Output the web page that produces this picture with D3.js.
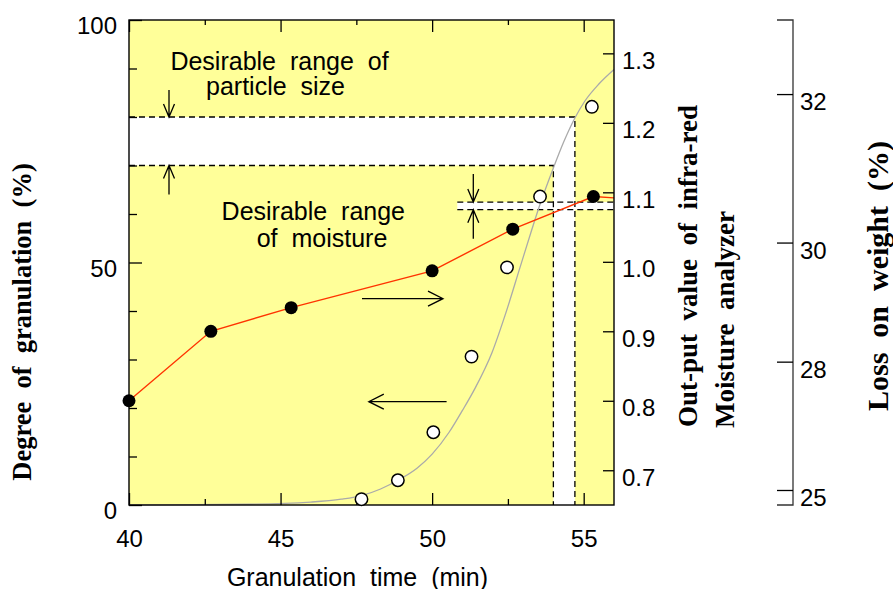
<!DOCTYPE html>
<html>
<head>
<meta charset="utf-8">
<script src="https://cdn.jsdelivr.net/npm/d3@7"></script>
<style>
  body { margin: 0; background: #fff; }
  svg { display: block; }
  .sans { font-family: "Liberation Sans", Arial, sans-serif; fill: #000; }
  .serif { font-family: "Liberation Serif", "Times New Roman", serif; font-weight: bold; fill: #000; }
</style>
</head>
<body>
<script>
// infra-red moisture analyzer output (filled dots, right axis)
var irTime = [40.0, 42.7, 45.35, 50.0, 52.66, 55.32];
var irValue = [0.80, 0.90, 0.934, 0.987, 1.047, 1.094];
// the red line carries on to the frame after the last dot
var irLineEnd = [56, 1.092];

// degree of granulation (open dots, left axis)
var granTime = [47.67, 48.87, 50.04, 51.3, 52.47, 53.56, 55.27];
var granValue = [1.2, 5.1, 15.0, 30.6, 49.0, 63.6, 82.1];

// grey fitted curve
var curveTime = [40, 44, 46, 47, 47.7, 48.3, 48.9, 49.5, 50.0, 50.56, 51.0, 51.41, 51.98, 52.4, 52.9,
                 53.3, 53.56, 54.0, 54.35, 54.71, 55.04, 55.5, 56.0];
var curveValue = [0, 0.15, 0.6, 1.2, 2.0, 3.3, 5.2, 7.6, 10.5, 15, 19.5, 24, 31.5, 39, 49,
                  57, 62, 69.5, 75, 79.8, 83.3, 86.8, 89.8];

// desirable ranges
var particleRange = [70, 80];        // % granulation
var particleTime = [54.0, 54.71];    // where the curve meets that range
var moistureRange = [1.075, 1.086];  // infra-red output
var moistureFrom = 50.83;

// ticks
var xMajor = [40, 45, 50, 55];
var xMinor = [42.5, 47.5, 52.5];
var leftMajor = [0, 50, 100];
var leftMinor = [10, 20, 30, 40, 60, 70, 80, 90];
var irTicks = [0.7, 0.8, 0.9, 1.0, 1.1, 1.2, 1.3];
var lossTicks = [25, 28, 30, 32];
// the loss-on-weight scale is not linear: infra-red value at each loss tick
var lossAsIr = [0.6716, 0.8563, 1.0277, 1.2414];

var W = 893, H = 589;
var L = 129, R = 614, T = 20, B = 505;

var svg = d3.select("body").append("svg").attr("width", W).attr("height", H);

var x = d3.scaleLinear().domain([40, 56]).range([L, R]);
var yL = d3.scaleLinear().domain([0, 100]).range([B, T]);
var yR = d3.scaleLinear().domain([0.65, 1.348]).range([B, T]);
var yLoss = d3.scaleLinear().domain(lossTicks).range(lossAsIr.map(yR));

// plot background
svg.append("rect").attr("x", L).attr("y", T).attr("width", R - L).attr("height", B - T)
  .attr("fill", "#ffff99");

// white bands of the desirable ranges
svg.append("rect")
  .attr("x", x(40)).attr("y", yL(particleRange[1]))
  .attr("width", x(particleTime[1]) - x(40))
  .attr("height", yL(particleRange[0]) - yL(particleRange[1]))
  .attr("fill", "#fff");
svg.append("rect")
  .attr("x", x(particleTime[0])).attr("y", yL(particleRange[1]))
  .attr("width", x(particleTime[1]) - x(particleTime[0]))
  .attr("height", B - yL(particleRange[1]))
  .attr("fill", "#fff");
svg.append("rect")
  .attr("x", x(moistureFrom)).attr("y", yR(moistureRange[1]))
  .attr("width", R - x(moistureFrom))
  .attr("height", yR(moistureRange[0]) - yR(moistureRange[1]))
  .attr("fill", "#fff");

// dashed range lines
var dash = svg.append("g").attr("stroke", "#000").attr("stroke-width", 1.3)
  .attr("stroke-dasharray", "6,4").attr("fill", "none");
dash.append("path").attr("d", d3.line()([
  [x(40), yL(particleRange[1])], [x(particleTime[1]), yL(particleRange[1])], [x(particleTime[1]), B]]));
dash.append("path").attr("d", d3.line()([
  [x(40), yL(particleRange[0])], [x(particleTime[0]), yL(particleRange[0])], [x(particleTime[0]), B]]));
moistureRange.forEach(function(v) {
  dash.append("line").attr("x1", x(moistureFrom)).attr("x2", R)
    .attr("y1", yR(v)).attr("y2", yR(v));
});

// grey curve
svg.append("path")
  .datum(curveTime.map(function(t, i) { return [t, curveValue[i]]; }))
  .attr("fill", "none").attr("stroke", "#aaaaaa").attr("stroke-width", 1.3)
  .attr("d", d3.line().curve(d3.curveMonotoneX)
    .x(function(d) { return x(d[0]); }).y(function(d) { return yL(d[1]); }));

// red line
var irLine = irTime.map(function(t, i) { return [t, irValue[i]]; }).concat([irLineEnd]);
svg.append("path").datum(irLine)
  .attr("fill", "none").attr("stroke", "#ff3300").attr("stroke-width", 1.4)
  .attr("d", d3.line().x(function(d) { return x(d[0]); }).y(function(d) { return yR(d[1]); }));

// axes
function styleAxis(g) {
  g.select(".domain").remove();
  g.selectAll("line").attr("stroke", "#000").attr("stroke-width", 1.3);
  g.selectAll("text").attr("class", "sans").attr("font-size", 24).attr("fill", "#000");
}

svg.append("g").attr("transform", "translate(" + L + ",0)")
  .call(d3.axisLeft(yL).tickValues(leftMinor).tickSize(-8).tickFormat(""))
  .call(styleAxis);
svg.append("g").attr("transform", "translate(" + L + ",0)")
  .call(d3.axisLeft(yL).tickValues(leftMajor).tickSize(-13).tickPadding(12))
  .call(styleAxis)
  .selectAll("text").attr("dy", 13.5);

svg.append("g").attr("transform", "translate(0," + B + ")")
  .call(d3.axisBottom(x).tickValues(xMinor).tickSize(-6).tickFormat(""))
  .call(styleAxis);
svg.append("g").attr("transform", "translate(0," + B + ")")
  .call(d3.axisBottom(x).tickValues(xMajor).tickSize(-12).tickPadding(0))
  .call(styleAxis)
  .selectAll("text").attr("y", 41.5).attr("dy", 0);

svg.append("g").attr("transform", "translate(0," + T + ")")
  .call(d3.axisTop(x).tickValues(xMinor).tickSize(-5).tickFormat(""))
  .call(styleAxis);
svg.append("g").attr("transform", "translate(0," + T + ")")
  .call(d3.axisTop(x).tickValues(xMajor).tickSize(-12).tickFormat(""))
  .call(styleAxis);

svg.append("g").attr("transform", "translate(" + R + ",0)")
  .call(d3.axisRight(yR).tickValues(irTicks).tickSize(-11).tickPadding(8).tickFormat(d3.format(".1f")))
  .call(styleAxis)
  .selectAll("text").attr("dy", 15);

// loss on weight axis, bracket shaped
var lossX = 793;
svg.append("path")
  .attr("d", d3.line()([[lossX - 16, yR.range()[1]], [lossX, yR.range()[1]],
                        [lossX, yR.range()[0]], [lossX - 16, yR.range()[0]]]))
  .attr("fill", "none").attr("stroke", "#333").attr("stroke-width", 1.3);
svg.append("g").attr("transform", "translate(" + lossX + ",0)")
  .call(d3.axisRight(yLoss).tickValues(lossTicks).tickSize(-16).tickPadding(7).tickFormat(d3.format("d")))
  .call(styleAxis)
  .selectAll("text").attr("dy", 15.5);

// frame
svg.append("rect").attr("x", L).attr("y", T).attr("width", R - L).attr("height", B - T)
  .attr("fill", "none").attr("stroke", "#000").attr("stroke-width", 1.4);

// dots
svg.append("g").selectAll("circle").data(irTime).join("circle")
  .attr("cx", function(d) { return x(d); })
  .attr("cy", function(d, i) { return yR(irValue[i]); })
  .attr("r", 6.5).attr("fill", "#000");
svg.append("g").selectAll("circle").data(granTime).join("circle")
  .attr("cx", function(d) { return x(d); })
  .attr("cy", function(d, i) { return yL(granValue[i]); })
  .attr("r", 6.2).attr("fill", "#fff").attr("stroke", "#000").attr("stroke-width", 1.5);

// arrows
var arrows = svg.append("g").attr("stroke", "#000").attr("stroke-width", 1.3).attr("fill", "none");
function vArrow(ax, y0, y1) {
  var s = y1 > y0 ? 1 : -1;
  arrows.append("path").attr("d", "M" + ax + "," + y0 + "V" + y1 +
    "M" + (ax - 5.5) + "," + (y1 - s * 13) + "L" + ax + "," + y1 + "L" + (ax + 5.5) + "," + (y1 - s * 13));
}
function hArrow(ay, x0, x1) {
  var s = x1 > x0 ? 1 : -1;
  arrows.append("path").attr("d", "M" + x0 + "," + ay + "H" + x1 +
    "M" + (x1 - s * 15) + "," + (ay - 7.5) + "L" + x1 + "," + ay + "L" + (x1 - s * 15) + "," + (ay + 7.5));
}
vArrow(169, yL(particleRange[1]) - 27, yL(particleRange[1]));
vArrow(169, yL(particleRange[0]) + 29, yL(particleRange[0]));
vArrow(473.3, yR(moistureRange[1]) - 28, yR(moistureRange[1]));
vArrow(473.3, yR(moistureRange[0]) + 29, yR(moistureRange[0]));
hArrow(298.7, 362, 443);
hArrow(401.7, 446.6, 368.8);

// annotation text
function label(txt, tx, ty, size, anchor) {
  svg.append("text").attr("class", "sans").attr("x", tx).attr("y", ty)
    .attr("font-size", size).attr("text-anchor", anchor || "middle")
    .attr("xml:space", "preserve").style("white-space", "pre").text(txt);
}
label("Desirable  range  of", 279.5, 70, 25);
label("particle  size", 275.5, 95, 25);
label("Desirable  range", 313.3, 219.5, 25);
label("of  moisture", 322, 247, 25);
label("Granulation  time  (min)", 357.5, 586, 25);

function vTitle(txt, bx, by, size, anchor) {
  svg.append("text").attr("class", "serif")
    .attr("transform", "translate(" + bx + "," + by + ") rotate(-90)")
    .attr("font-size", size).attr("text-anchor", anchor)
    .style("white-space", "pre").text(txt);
}
vTitle("Degree  of  granulation  (%)", 31, 322, 26.5, "middle");
vTitle("Out-put  value  of  infra-red", 696.5, 427, 27, "start");
vTitle("Moisture  analyzer", 733.5, 428, 27, "start");
vTitle("Loss  on  weight  (%)", 888, 276, 30, "middle");
</script>
</body>
</html>
